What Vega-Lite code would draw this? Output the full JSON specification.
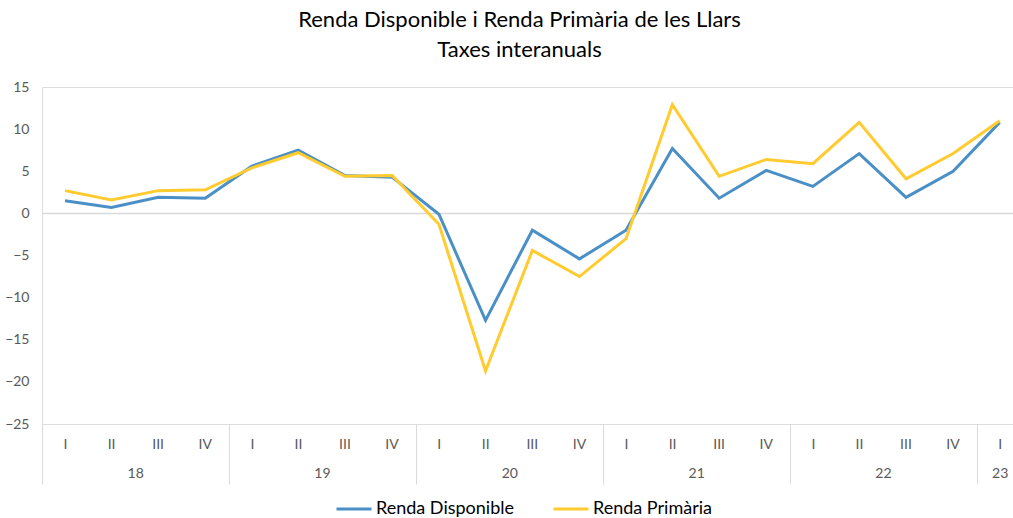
{
  "$schema": "https://vega.github.io/schema/vega-lite/v6.json",
  "width": 971,
  "height": 337,
  "autosize": {"type": "none"},
  "padding": {"left": 42, "top": 87, "right": 0, "bottom": 94},
  "background": "#ffffff",
  "title": {
    "text": ["Renda Disponible i Renda Primària de les Llars", "Taxes interanuals"],
    "font": "Lato",
    "fontSize": 22,
    "fontWeight": "normal",
    "color": "#000000",
    "lineHeight": 30,
    "offset": 18,
    "dx": -8
  },
  "data": {
    "values": [
      {"data": "2018-01-01", "serie": "Renda Disponible", "valor": 1.5},
      {"data": "2018-04-01", "serie": "Renda Disponible", "valor": 0.7},
      {"data": "2018-07-01", "serie": "Renda Disponible", "valor": 1.9},
      {"data": "2018-10-01", "serie": "Renda Disponible", "valor": 1.8},
      {"data": "2019-01-01", "serie": "Renda Disponible", "valor": 5.6},
      {"data": "2019-04-01", "serie": "Renda Disponible", "valor": 7.5},
      {"data": "2019-07-01", "serie": "Renda Disponible", "valor": 4.5},
      {"data": "2019-10-01", "serie": "Renda Disponible", "valor": 4.3},
      {"data": "2020-01-01", "serie": "Renda Disponible", "valor": -0.1},
      {"data": "2020-04-01", "serie": "Renda Disponible", "valor": -12.7},
      {"data": "2020-07-01", "serie": "Renda Disponible", "valor": -2.0},
      {"data": "2020-10-01", "serie": "Renda Disponible", "valor": -5.4},
      {"data": "2021-01-01", "serie": "Renda Disponible", "valor": -2.0},
      {"data": "2021-04-01", "serie": "Renda Disponible", "valor": 7.7},
      {"data": "2021-07-01", "serie": "Renda Disponible", "valor": 1.8},
      {"data": "2021-10-01", "serie": "Renda Disponible", "valor": 5.1},
      {"data": "2022-01-01", "serie": "Renda Disponible", "valor": 3.2},
      {"data": "2022-04-01", "serie": "Renda Disponible", "valor": 7.1},
      {"data": "2022-07-01", "serie": "Renda Disponible", "valor": 1.9},
      {"data": "2022-10-01", "serie": "Renda Disponible", "valor": 5.0},
      {"data": "2023-01-01", "serie": "Renda Disponible", "valor": 10.8},
      {"data": "2018-01-01", "serie": "Renda Primària", "valor": 2.7},
      {"data": "2018-04-01", "serie": "Renda Primària", "valor": 1.6},
      {"data": "2018-07-01", "serie": "Renda Primària", "valor": 2.7},
      {"data": "2018-10-01", "serie": "Renda Primària", "valor": 2.8},
      {"data": "2019-01-01", "serie": "Renda Primària", "valor": 5.4},
      {"data": "2019-04-01", "serie": "Renda Primària", "valor": 7.2},
      {"data": "2019-07-01", "serie": "Renda Primària", "valor": 4.4},
      {"data": "2019-10-01", "serie": "Renda Primària", "valor": 4.5},
      {"data": "2020-01-01", "serie": "Renda Primària", "valor": -1.3},
      {"data": "2020-04-01", "serie": "Renda Primària", "valor": -18.7},
      {"data": "2020-07-01", "serie": "Renda Primària", "valor": -4.4},
      {"data": "2020-10-01", "serie": "Renda Primària", "valor": -7.5},
      {"data": "2021-01-01", "serie": "Renda Primària", "valor": -3.0},
      {"data": "2021-04-01", "serie": "Renda Primària", "valor": 12.9},
      {"data": "2021-07-01", "serie": "Renda Primària", "valor": 4.4},
      {"data": "2021-10-01", "serie": "Renda Primària", "valor": 6.4},
      {"data": "2022-01-01", "serie": "Renda Primària", "valor": 5.9},
      {"data": "2022-04-01", "serie": "Renda Primària", "valor": 10.8},
      {"data": "2022-07-01", "serie": "Renda Primària", "valor": 4.1},
      {"data": "2022-10-01", "serie": "Renda Primària", "valor": 7.1},
      {"data": "2023-01-01", "serie": "Renda Primària", "valor": 11.0}
    ],
    "format": {"parse": {"data": "utc:'%Y-%m-%d'"}}
  },
  "encoding": {
    "y": {
      "field": "valor",
      "type": "quantitative",
      "scale": {"domain": [-25, 15], "nice": false, "zero": false},
      "axis": {
        "title": null,
        "values": [-25, -20, -15, -10, -5, 0, 5, 10, 15],
        "domain": false,
        "ticks": false,
        "grid": true,
        "gridColor": {"condition": {"test": "datum.value === 0", "value": "#d9d9d9"}, "value": "transparent"},
        "gridWidth": 1.5,
        "labelPadding": 13,
        "labelFont": "Lato",
        "labelFontSize": 14,
        "labelColor": "#595959"
      }
    },
    "color": {
      "field": "serie",
      "type": "nominal",
      "scale": {"domain": ["Renda Disponible", "Renda Primària"], "range": ["#4A90C6", "#FFCB2F"]},
      "legend": {
        "title": null,
        "orient": "none",
        "legendX": 293,
        "legendY": 403,
        "direction": "horizontal",
        "symbolType": "stroke",
        "symbolSize": 1225,
        "symbolStrokeWidth": 3,
        "labelFont": "Lato",
        "labelFontSize": 18,
        "labelColor": "#000000",
        "labelOffset": 3,
        "columnPadding": 33
      }
    }
  },
  "resolve": {"axis": {"x": "independent"}},
  "layer": [
    {
      "transform": [{"filter": "datum.serie === 'Renda Disponible'"}],
      "mark": {"type": "line", "strokeWidth": 3},
      "encoding": {
        "x": {
          "field": "data",
          "type": "temporal",
          "timeUnit": "utcyearquarter",
          "bandPosition": 0.5,
          "scale": {"type": "utc", "domain": [{"year": 2018, "month": 1, "date": 1, "utc": true}, {"year": 2023, "month": 3, "date": 13, "utc": true}]},
          "axis": {
            "orient": "bottom",
            "title": null,
            "domain": false,
            "grid": false,
            "values": [
              {"year": 2018, "month": 1, "date": 1, "utc": true}, {"year": 2018, "month": 4, "date": 1, "utc": true}, {"year": 2018, "month": 7, "date": 1, "utc": true}, {"year": 2018, "month": 10, "date": 1, "utc": true},
              {"year": 2019, "month": 1, "date": 1, "utc": true}, {"year": 2019, "month": 4, "date": 1, "utc": true}, {"year": 2019, "month": 7, "date": 1, "utc": true}, {"year": 2019, "month": 10, "date": 1, "utc": true},
              {"year": 2020, "month": 1, "date": 1, "utc": true}, {"year": 2020, "month": 4, "date": 1, "utc": true}, {"year": 2020, "month": 7, "date": 1, "utc": true}, {"year": 2020, "month": 10, "date": 1, "utc": true},
              {"year": 2021, "month": 1, "date": 1, "utc": true}, {"year": 2021, "month": 4, "date": 1, "utc": true}, {"year": 2021, "month": 7, "date": 1, "utc": true}, {"year": 2021, "month": 10, "date": 1, "utc": true},
              {"year": 2022, "month": 1, "date": 1, "utc": true}, {"year": 2022, "month": 4, "date": 1, "utc": true}, {"year": 2022, "month": 7, "date": 1, "utc": true}, {"year": 2022, "month": 10, "date": 1, "utc": true},
              {"year": 2023, "month": 1, "date": 1, "utc": true}
            ],
            "labelExpr": "['I','II','III','IV'][utcquarter(datum.value) - 1]",
            "ticks": true,
            "tickSize": 60,
            "tickWidth": 1,
            "tickColor": {"condition": {"test": "utcmonth(datum.value) === 0", "value": "#d9d9d9"}, "value": "transparent"},
            "labelOffset": 23,
            "labelPadding": -47,
            "labelAlign": "center",
            "labelBaseline": "top",
            "labelFlush": false,
            "labelOverlap": false,
            "labelBound": false,
            "labelFont": "Lato",
            "labelFontSize": 14,
            "labelColor": "#595959"
          }
        }
      }
    },
    {
      "transform": [{"filter": "datum.serie === 'Renda Primària'"}],
      "mark": {"type": "line", "strokeWidth": 3},
      "encoding": {
        "x": {
          "field": "data",
          "type": "temporal",
          "timeUnit": "utcyearquarter",
          "bandPosition": 0.5,
          "scale": {"type": "utc", "domain": [{"year": 2018, "month": 1, "date": 1, "utc": true}, {"year": 2023, "month": 3, "date": 13, "utc": true}]},
          "axis": {
            "orient": "bottom",
            "title": null,
            "domain": false,
            "grid": false,
            "ticks": false,
            "values": [
              {"year": 2018, "month": 7, "date": 2, "utc": true},
              {"year": 2019, "month": 7, "date": 2, "utc": true},
              {"year": 2020, "month": 7, "date": 2, "utc": true},
              {"year": 2021, "month": 7, "date": 2, "utc": true},
              {"year": 2022, "month": 7, "date": 2, "utc": true},
              {"year": 2023, "month": 2, "date": 15, "utc": true}
            ],
            "labelExpr": "utcFormat(datum.value, '%y')",
            "labelPadding": 42,
            "labelAlign": "center",
            "labelBaseline": "top",
            "labelFlush": false,
            "labelOverlap": false,
            "labelBound": false,
            "labelFont": "Lato",
            "labelFontSize": 14,
            "labelColor": "#595959"
          }
        }
      }
    }
  ]
}
